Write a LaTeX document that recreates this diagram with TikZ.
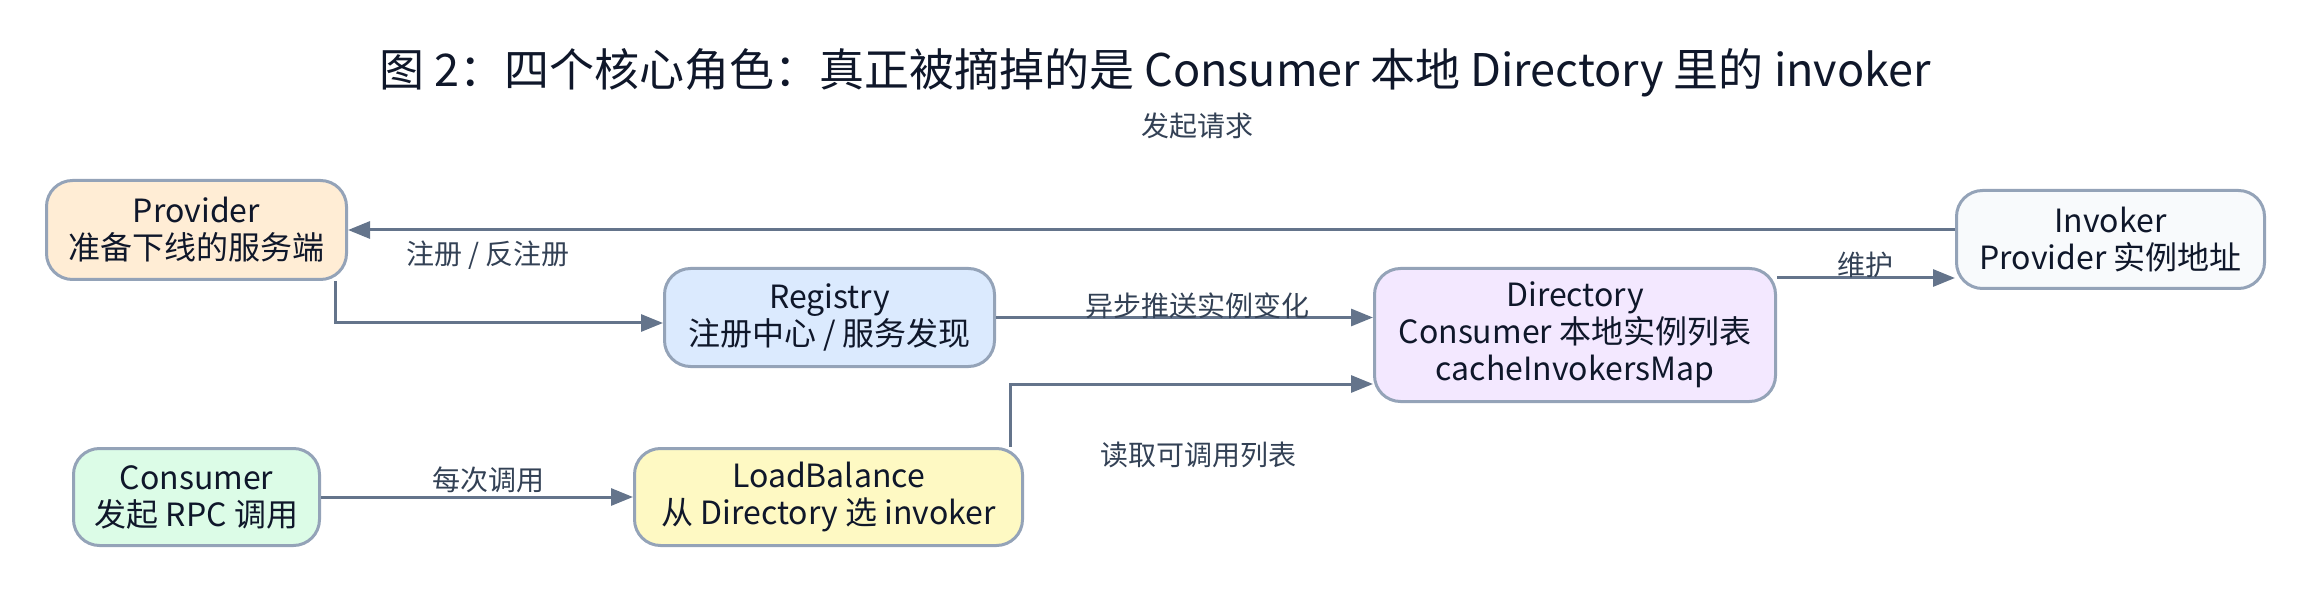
\documentclass[tikz,border=0pt]{standalone}
\usepackage{fontspec}
\setmainfont{Noto Sans CJK SC}
\usetikzlibrary{arrows.meta,calc}
\definecolor{bordc}{HTML}{94A3B8}
\definecolor{edgec}{HTML}{64748B}
\definecolor{textc}{HTML}{0F172A}
\definecolor{labc}{HTML}{334155}
\definecolor{provc}{HTML}{FFEDD5}
\definecolor{regc}{HTML}{DBEAFE}
\definecolor{dirc}{HTML}{F3E8FF}
\definecolor{invc}{HTML}{F8FAFC}
\definecolor{consc}{HTML}{DCFCE7}
\definecolor{lbc}{HTML}{FEF9C3}
\tikzset{
  box/.style={draw=bordc, line width=1.5pt, rounded corners=13pt, align=center,
    text=textc, inner sep=0pt, font=\fontsize{16pt}{18.5pt}\selectfont},
  arr/.style={draw=edgec, line width=1.5pt, -{Triangle[length=11pt,width=8.5pt]}},
  elabel/.style={text=labc, inner sep=0pt, font=\fontsize{14pt}{16pt}\selectfont},
  titlestyle/.style={text=textc, inner sep=0pt, font=\fontsize{22.5pt}{26pt}\selectfont}
}
\begin{document}
\begin{tikzpicture}[x=0.5pt,y=-0.5pt]
\useasboundingbox (0,0) rectangle (2313,593);
\node[titlestyle] (title) at (1155,73) {图 2：四个核心角色：真正被摘掉的是 Consumer 本地 Directory 里的 invoker};

\node[box, fill=provc, minimum width=150pt, minimum height=49.5pt] (prov) at (196.5,230) {Provider\\准备下线的服务端};
\node[box, fill=regc, minimum width=165pt, minimum height=49pt] (reg) at (829.5,317.5) {Registry\\注册中心 / 服务发现};
\node[box, fill=dirc, minimum width=200.5pt, minimum height=66.5pt] (dir) at (1575,335) {Directory\\Consumer 本地实例列表\\cacheInvokersMap};
\node[box, fill=invc, minimum width=154pt, minimum height=49pt] (inv) at (2110.5,239.5) {Invoker\\Provider 实例地址};
\node[box, fill=consc, minimum width=123pt, minimum height=48.5pt] (cons) at (196.5,497) {Consumer\\发起 RPC 调用};
\node[box, fill=lbc, minimum width=194pt, minimum height=48.5pt] (lb) at (828.5,497) {LoadBalance\\从 Directory 选 invoker};

% edges
\draw[arr] (inv.west |- prov.east) -- (prov.east);
\draw[arr] ($(prov.south east)+(-13,0)$) |- ($(reg.west)+(0,5.5)$);
\draw[arr] (reg.east) -- (dir.west |- reg.east);
\draw[arr] ($(lb.north east)+(-14,0)$) |- ($(dir.west)+(0,49)$);
\coordinate (dstart) at ($(dir.north east)+(0,11)$);
\draw[arr] (dstart) -- (inv.west |- dstart);
\draw[arr] (cons.east) -- (lb.west);

% labels
\node[elabel] (l1) at (1197,126) {发起请求};
\node[elabel] (l2) at (488,255) {注册 / 反注册};
\node[elabel] (l3) at (1197,306) {异步推送实例变化};
\node[elabel] (l4) at (1198,455) {读取可调用列表};
\node[elabel] (l5) at (1865,265) {维护};
\node[elabel] (l6) at (488,480) {每次调用};
\end{tikzpicture}
\end{document}
